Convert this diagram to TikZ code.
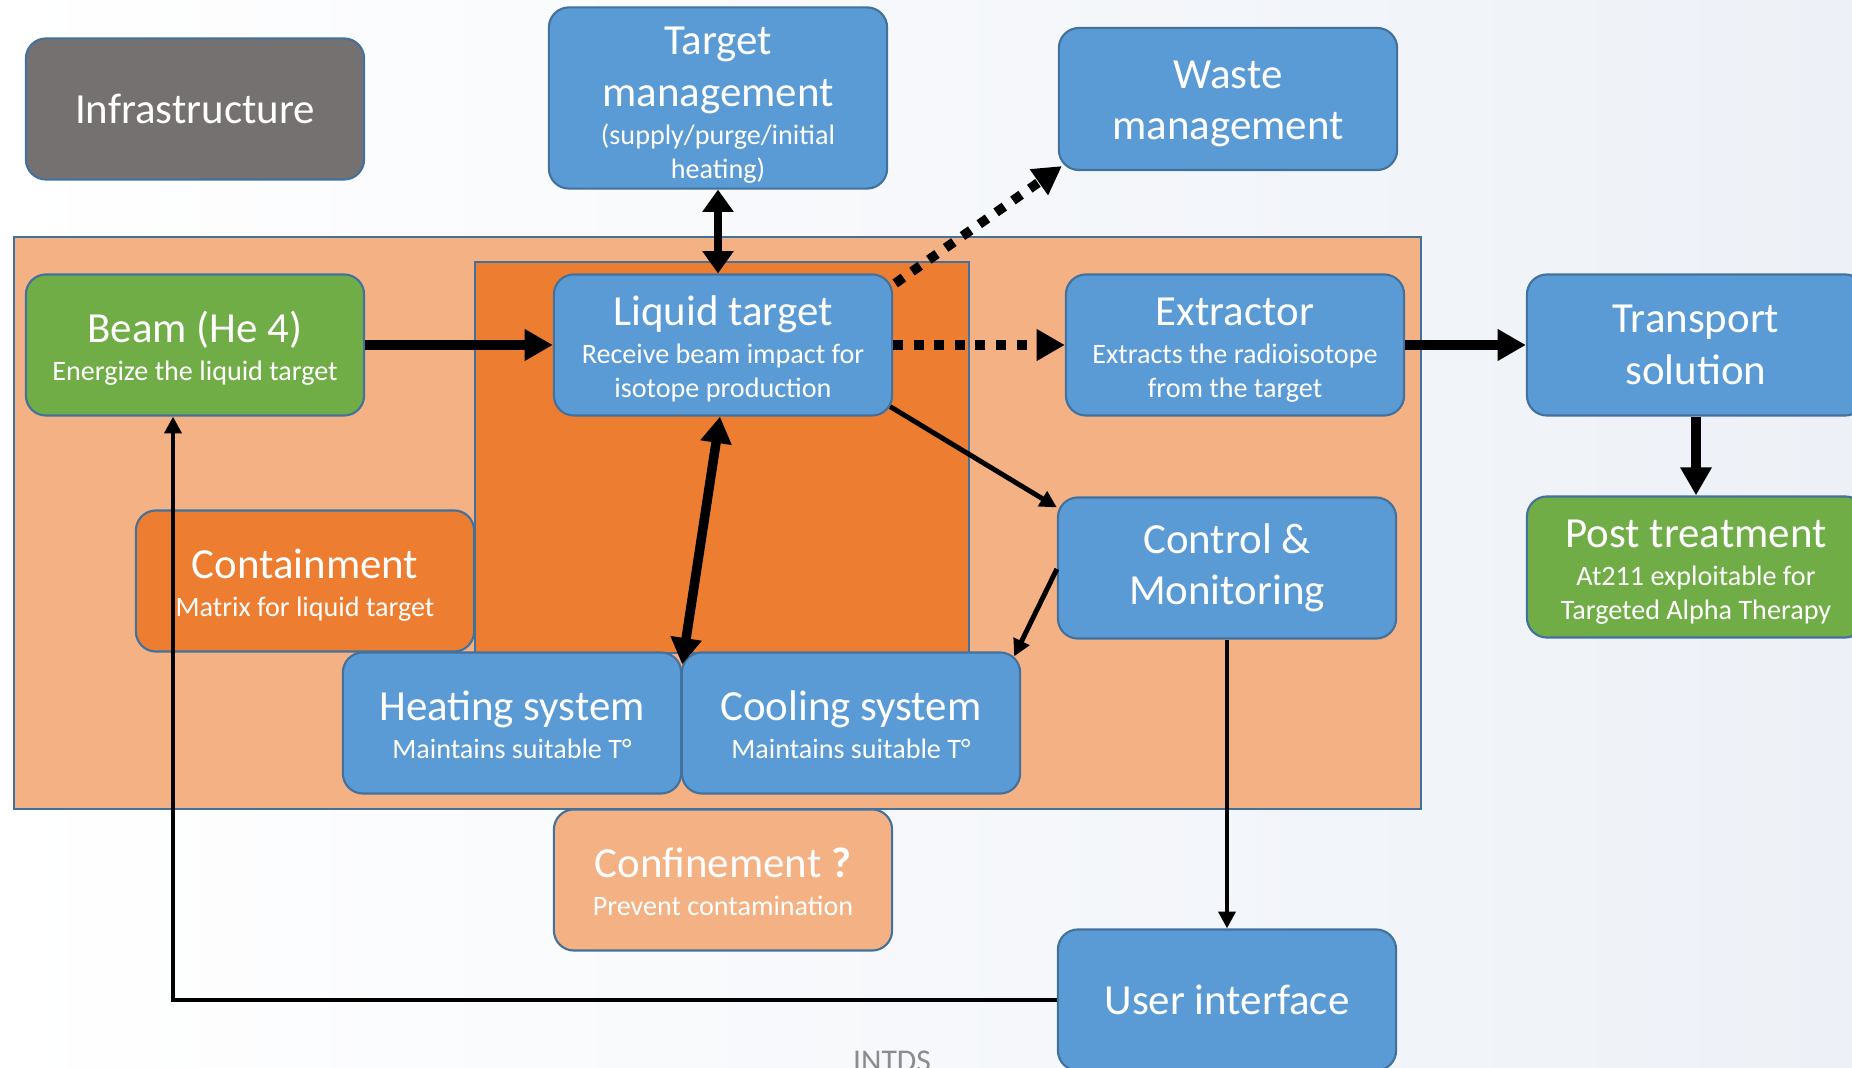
\documentclass[tikz,border=0pt]{standalone}
\usepackage{fontspec}
\setmainfont{Carlito}
\usetikzlibrary{arrows.meta}
\definecolor{boxblue}{HTML}{5B9BD5}
\definecolor{bordblue}{HTML}{41719C}
\definecolor{boxgreen}{HTML}{70AD47}
\definecolor{boxorange}{HTML}{ED7D31}
\definecolor{lightorange}{HTML}{F4B183}
\definecolor{boxgray}{HTML}{767171}
\definecolor{bgtone}{HTML}{EDF1F7}
\definecolor{foottext}{HTML}{8C8C8C}
\newcommand{\tstrut}[1][12.5pt]{\rule{0pt}{#1}}
\newcommand{\subtxt}[1]{{\fontsize{8}{9.7}\selectfont\begin{tabular}[t]{@{}c@{}}#1\end{tabular}}}
\tikzset{%
  block/.style={draw=bordblue,line width=0.6pt,rounded corners=0.2cm,
    minimum width=3.38cm,minimum height=1.41cm,align=center,text=white,
    inner sep=1pt,font=\fontsize{12.2}{14.6}\selectfont},
  bluebox/.style={block,fill=boxblue},
  greenbox/.style={block,fill=boxgreen},
  orangebox/.style={block,fill=boxorange},
  paleorangebox/.style={block,fill=lightorange},
  graybox/.style={block,fill=boxgray},
  heavy/.style={draw,line width=2.7pt,-{Triangle[length=8pt,width=8.5pt]}},
  dotline/.style={heavy,dash pattern=on 2.85pt off 3pt},
  light/.style={draw,line width=1.4pt,-{Triangle[length=4.8pt,width=4.8pt]}}
}
\begin{document}
\begin{tikzpicture}[x=0.01cm,y=-0.01cm]
	\useasboundingbox (0,0) rectangle (1852,1068);
	\clip (0,0) rectangle (1852,1068);
	\shade[left color=white,right color=bgtone] (0,0) rectangle (1852,1068);
	% system areas
	\draw[bordblue,line width=0.6pt,fill=lightorange] (14,237) rectangle (1421,809);
	\draw[bordblue,line width=0.4pt,fill=boxorange] (475,262) rectangle (969,653);
	\node[graybox] (infra) at (195,109) {Infrastructure};
	\node[bluebox,minimum height=1.81cm,inner ysep=0pt] (tgt) at (718,98) {\tstrut[13.5pt]Target\\management\\[-3.8pt]%
		\subtxt{(supply/purge/initial\\heating)}};
	\node[bluebox,minimum height=1.42cm] (waste) at (1228,99) {\tstrut[10.8pt]Waste\\management};
	\node[greenbox] (beam) at (195,345) {\tstrut Beam (He 4)\\[-3.8pt]\subtxt{Energize the liquid target}};
	\node[bluebox] (liquid) at (723,345) {\tstrut Liquid target\\[-3.8pt]%
		\subtxt{Receive beam impact for\\isotope production}};
	\node[bluebox] (extr) at (1235,345) {\tstrut Extractor\\[-3.8pt]%
		\subtxt{Extracts the radioisotope\\from the target}};
	\node[bluebox] (trans) at (1696,345) {Transport\\solution};
	\node[greenbox] (post) at (1696,567) {\tstrut Post treatment\\[-3.8pt]%
		\subtxt{At211 exploitable for\\Targeted Alpha Therapy}};
	\node[bluebox] (ctrl) at (1227,568) {Control \&\\Monitoring};
	\node[orangebox] (contain) at (305,581) {\tstrut Containment\\[-3.8pt]\subtxt{Matrix for liquid target}};
	\node[bluebox] (heat) at (512,723) {\tstrut Heating system\\[-3.8pt]\subtxt{Maintains suitable T°}};
	\node[bluebox] (cool) at (851,723) {\tstrut Cooling system\\[-3.8pt]\subtxt{Maintains suitable T°}};
	\node[paleorangebox] (confine) at (723,880) {\tstrut Confinement \textbf{?}\\[-3.8pt]%
		\subtxt{Prevent contamination}};
	\node[bluebox] (ui) at (1227,1000) {User interface};
	\node[text=foottext,font=\fontsize{9}{11}\selectfont,anchor=base] (footer) at (892,1071) {INTDS};
	% links
	\draw[heavy,line width=2pt,{Triangle[length=6.3pt,width=8.5pt]}-{Triangle[length=6.3pt,width=8.5pt]}]
		(tgt.south) -- (tgt.south |- liquid.north);
	\draw[heavy] (beam.east) -- (liquid.west);
	\draw[dotline] (liquid.east) -- (extr.west);
	\draw[dotline] ([shift={(2,10)}]liquid.north east) -- ([shift={(4,-5)}]waste.south west);
	\draw[heavy] (extr.east) -- (trans.west);
	\draw[heavy] (trans.south) -- (post.north);
	\draw[heavy,{Triangle[length=7.5pt,width=8.5pt]}-{Triangle[length=7.5pt,width=8.5pt]}]
		([shift={(-3,0)}]liquid.south) -- ([shift={(0,13)}]heat.north east);
	\draw[light] ([shift={(-3,-10)}]liquid.south east) -- ([shift={(0,11)}]ctrl.north west);
	\draw[light] ([shift={(0,1)}]ctrl.west) -- ([shift={(-7,5)}]cool.north east);
	\draw[light] (ctrl.south) -- (ui.north);
	\draw[light] (ui.west) -| ([shift={(-22,0)}]beam.south);
\end{tikzpicture}
\end{document}
